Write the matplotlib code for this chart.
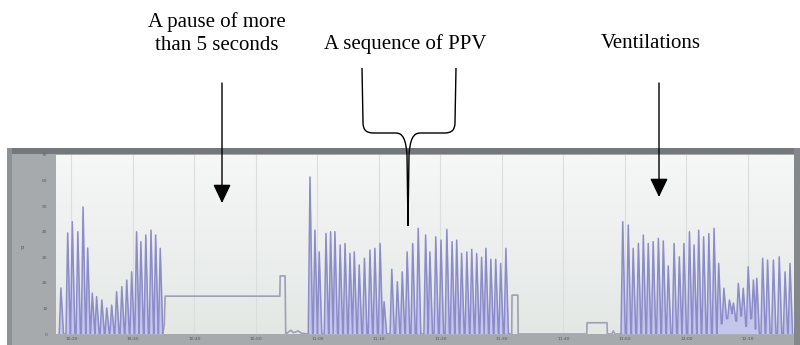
import numpy as np
import matplotlib
matplotlib.use("Agg")
import matplotlib.pyplot as plt
from matplotlib.patches import Rectangle, FancyArrowPatch, PathPatch
from matplotlib.path import Path

# breath peaks (time s, pressure)
g1_t = [0.8, 1.9, 2.65, 3.55, 4.4, 5.15, 5.9, 6.6, 7.45, 8.25, 9.05, 9.85, 10.7, 11.5,
        12.3, 13.1, 13.8, 14.6, 15.45, 16.2, 16.95]
g1_v = [18.0, 39.5, 43.9, 40.0, 49.7, 33.6, 16.0, 14.6, 13.3, 10.2, 11.3, 16.5, 18.5, 21.1,
        24.3, 40.0, 36.1, 38.7, 40.6, 38.7, 33.5]

g2_t = [41.3, 42.1, 42.8, 43.9, 44.65, 45.35, 46.2, 47.0, 47.8, 48.5, 49.3, 50.15, 51.05,
        51.85, 52.7, 53.35, 54.6, 55.5, 56.3, 57.1, 58.0, 58.9, 60.1, 60.8, 61.75, 62.6,
        63.55, 64.4, 65.15, 65.95, 66.8, 67.6, 68.4, 69.2, 69.9, 70.7, 71.5, 72.3, 73.15]
g2_v = [61.4, 40.6, 32.1, 39.3, 40.0, 40.0, 34.8, 35.4, 31.5, 32.1, 27.0, 29.6, 32.8,
        33.5, 35.4, 12.6, 25.3, 20.4, 24.3, 32.1, 35.4, 41.3, 38.7, 32.1, 38.0, 36.7,
        40.9, 36.1, 36.7, 31.5, 32.1, 33.1, 31.5, 30.0, 33.5, 29.2, 29.2, 27.6, 33.5]

g3_t = [92.15, 93.05, 93.85, 94.7, 95.5, 96.3, 97.1, 97.95, 98.75, 99.55, 100.5, 101.35,
        102.1, 103.0, 103.75, 104.5, 105.3, 106.15, 107.0, 107.75, 108.6, 109.5, 110.15,
        110.95, 111.75, 112.55, 113.4, 113.95, 114.9, 115.7, 116.65, 117.6, 118.55, 119.35]
g3_v = [43.9, 42.6, 33.5, 35.4, 38.7, 35.4, 36.1, 37.4, 36.4, 26.6, 35.4, 30.2,
        35.4, 40.0, 34.8, 40.6, 38.0, 39.3, 41.3, 27.6, 17.9, 13.3, 12.1,
        19.8, 17.9, 26.3, 21.1, 21.8, 29.6, 28.9, 28.9, 30.2, 24.3, 27.6]
g3_trough = [0] * 19 + [4, 6, 8, 5, 7, 3, 6, 2, 0] + [0] * 6

# pauses between the sequences
gap1_t = [17.35, 17.6, 17.75, 36.4, 36.45, 37.25, 37.35, 38.2, 38.6, 39.4, 39.9, 41.05]
gap1_v = [0.0, 3.5, 14.8, 14.8, 22.7, 22.7, 0.0, 1.5, 0.5, 1.2, 0.3, 0.0]
gap2_t = [73.55, 74.1, 74.15, 75.1, 75.15, 86.3, 86.35, 89.6, 89.65, 90.4, 90.6, 90.9, 91.9]
gap2_v = [0.0, 0.0, 15.2, 15.2, 0.0, 0.0, 4.4, 4.4, 0.0, 0.0, 1.2, 0.0, 0.0]

xtick_pos = [2.5, 12.5, 22.5, 32.5, 42.5, 52.5, 62.5, 72.5, 82.5, 92.5, 102.5, 112.5]
xtick_lab = ["10:20", "10:30", "10:40", "10:50", "11:00", "11:10", "11:20", "11:30",
             "11:40", "11:50", "12:00", "12:10"]
ytick_pos = [0, 10, 20, 30, 40, 50, 60, 70]


def spikes(ts, vs, troughs=None):
    if troughs is None:
        troughs = [0] * len(ts)
    xs, ys = [], []
    prev = 0
    for t, v, tr in zip(ts, vs, troughs):
        xs += [t - 0.28, t, t + 0.42]
        ys += [prev, v, tr]
        prev = tr
    return xs, ys


groups = [spikes(g1_t, g1_v), spikes(g2_t, g2_v), spikes(g3_t, g3_v, g3_trough)]
gaps = [(gap1_t, gap1_v), (gap2_t, gap2_v)]

W, H = 800, 345
fig = plt.figure(figsize=(8, 3.45), dpi=100)
fig.patch.set_facecolor("white")


def fx(x, y):
    return (x / W, 1 - y / H)


def box(x0, y0, x1, y1, c):
    fig.add_artist(Rectangle(fx(x0, y1), (x1 - x0) / W, (y1 - y0) / H,
                             transform=fig.transFigure, color=c, lw=0, zorder=0))


# grey frame of the monitor window
box(7, 148, 800, 345, "#a7aaad")
box(7, 148, 800, 154, "#75787b")
box(7, 148, 12, 345, "#8e9194")
box(794, 148, 800, 345, "#85888b")

ax = fig.add_axes([56 / W, 11 / H, 738 / W, 179 / H])
grad = np.linspace(0, 1, 100).reshape(-1, 1)
ax.imshow(grad, extent=[0, 120, 0, 70], aspect="auto", origin="upper",
          cmap=matplotlib.colors.LinearSegmentedColormap.from_list("bg", ["#f6f7f7", "#e3e8e5"]),
          zorder=0)
for xp in xtick_pos:
    ax.axvline(xp, color="#d9dede", lw=0.8, zorder=1)

for xs, ys in gaps:
    ax.plot(xs, ys, color="#a0a0b2", lw=1.2, zorder=3)
for xs, ys in groups:
    ax.fill_between(xs, ys, 0, color="#b8b8ee", alpha=0.7, lw=0, zorder=2)
    ax.plot(xs, ys, color="#8c8cc8", lw=1.1, zorder=3)

ax.set_xlim(0, 120)
ax.set_ylim(0, 70)
ax.set_xticks(xtick_pos)
ax.set_xticklabels(xtick_lab)
ax.set_yticks(ytick_pos)
ax.set_yticklabels([str(v) for v in ytick_pos])
ax.tick_params(length=0, labelsize=3.2, labelcolor="#555555")
ax.tick_params(axis="x", pad=2.5)
ax.tick_params(axis="y", pad=6)
for s in ax.spines.values():
    s.set_visible(False)
fig.text(22 / W, 1 - 248 / H, "P", fontsize=4, color="#555555", ha="center", va="center")

# annotations
serif = "Liberation Serif"
fig.text(*fx(217, 22), "A pause of more", family=serif, fontsize=15, ha="center", va="center")
fig.text(*fx(217, 45), "than 5 seconds", family=serif, fontsize=15, ha="center", va="center")
fig.text(*fx(405, 44), "A sequence of PPV", family=serif, fontsize=15, ha="center", va="center")
fig.text(*fx(651, 44), "Ventilations", family=serif, fontsize=15, ha="center", va="center")

for x, y0, y1 in [(222, 83, 203), (659, 83, 197)]:
    fig.add_artist(FancyArrowPatch(fx(x, y0), fx(x, y1), transform=fig.transFigure,
                                   arrowstyle="-|>,head_length=1.15,head_width=0.55",
                                   mutation_scale=10, color="black", lw=1.0,
                                   shrinkA=0, shrinkB=0))

verts = [(362, 68), (363, 122), (363, 130), (366, 133), (374, 133), (396, 133),
         (403, 133), (406, 140), (407, 155), (408, 226),
         (456, 68), (455, 122), (455, 130), (452, 133), (444, 133), (420, 133),
         (413, 133), (410, 140), (409, 155), (408, 226)]
codes = [Path.MOVETO, Path.LINETO, Path.CURVE4, Path.CURVE4, Path.CURVE4, Path.LINETO,
         Path.CURVE4, Path.CURVE4, Path.CURVE4, Path.LINETO] * 2
brace = Path([fx(*v) for v in verts], codes)
fig.add_artist(PathPatch(brace, transform=fig.transFigure, fill=False, lw=1.0, color="black"))

fig.savefig("out.png", dpi=100)
